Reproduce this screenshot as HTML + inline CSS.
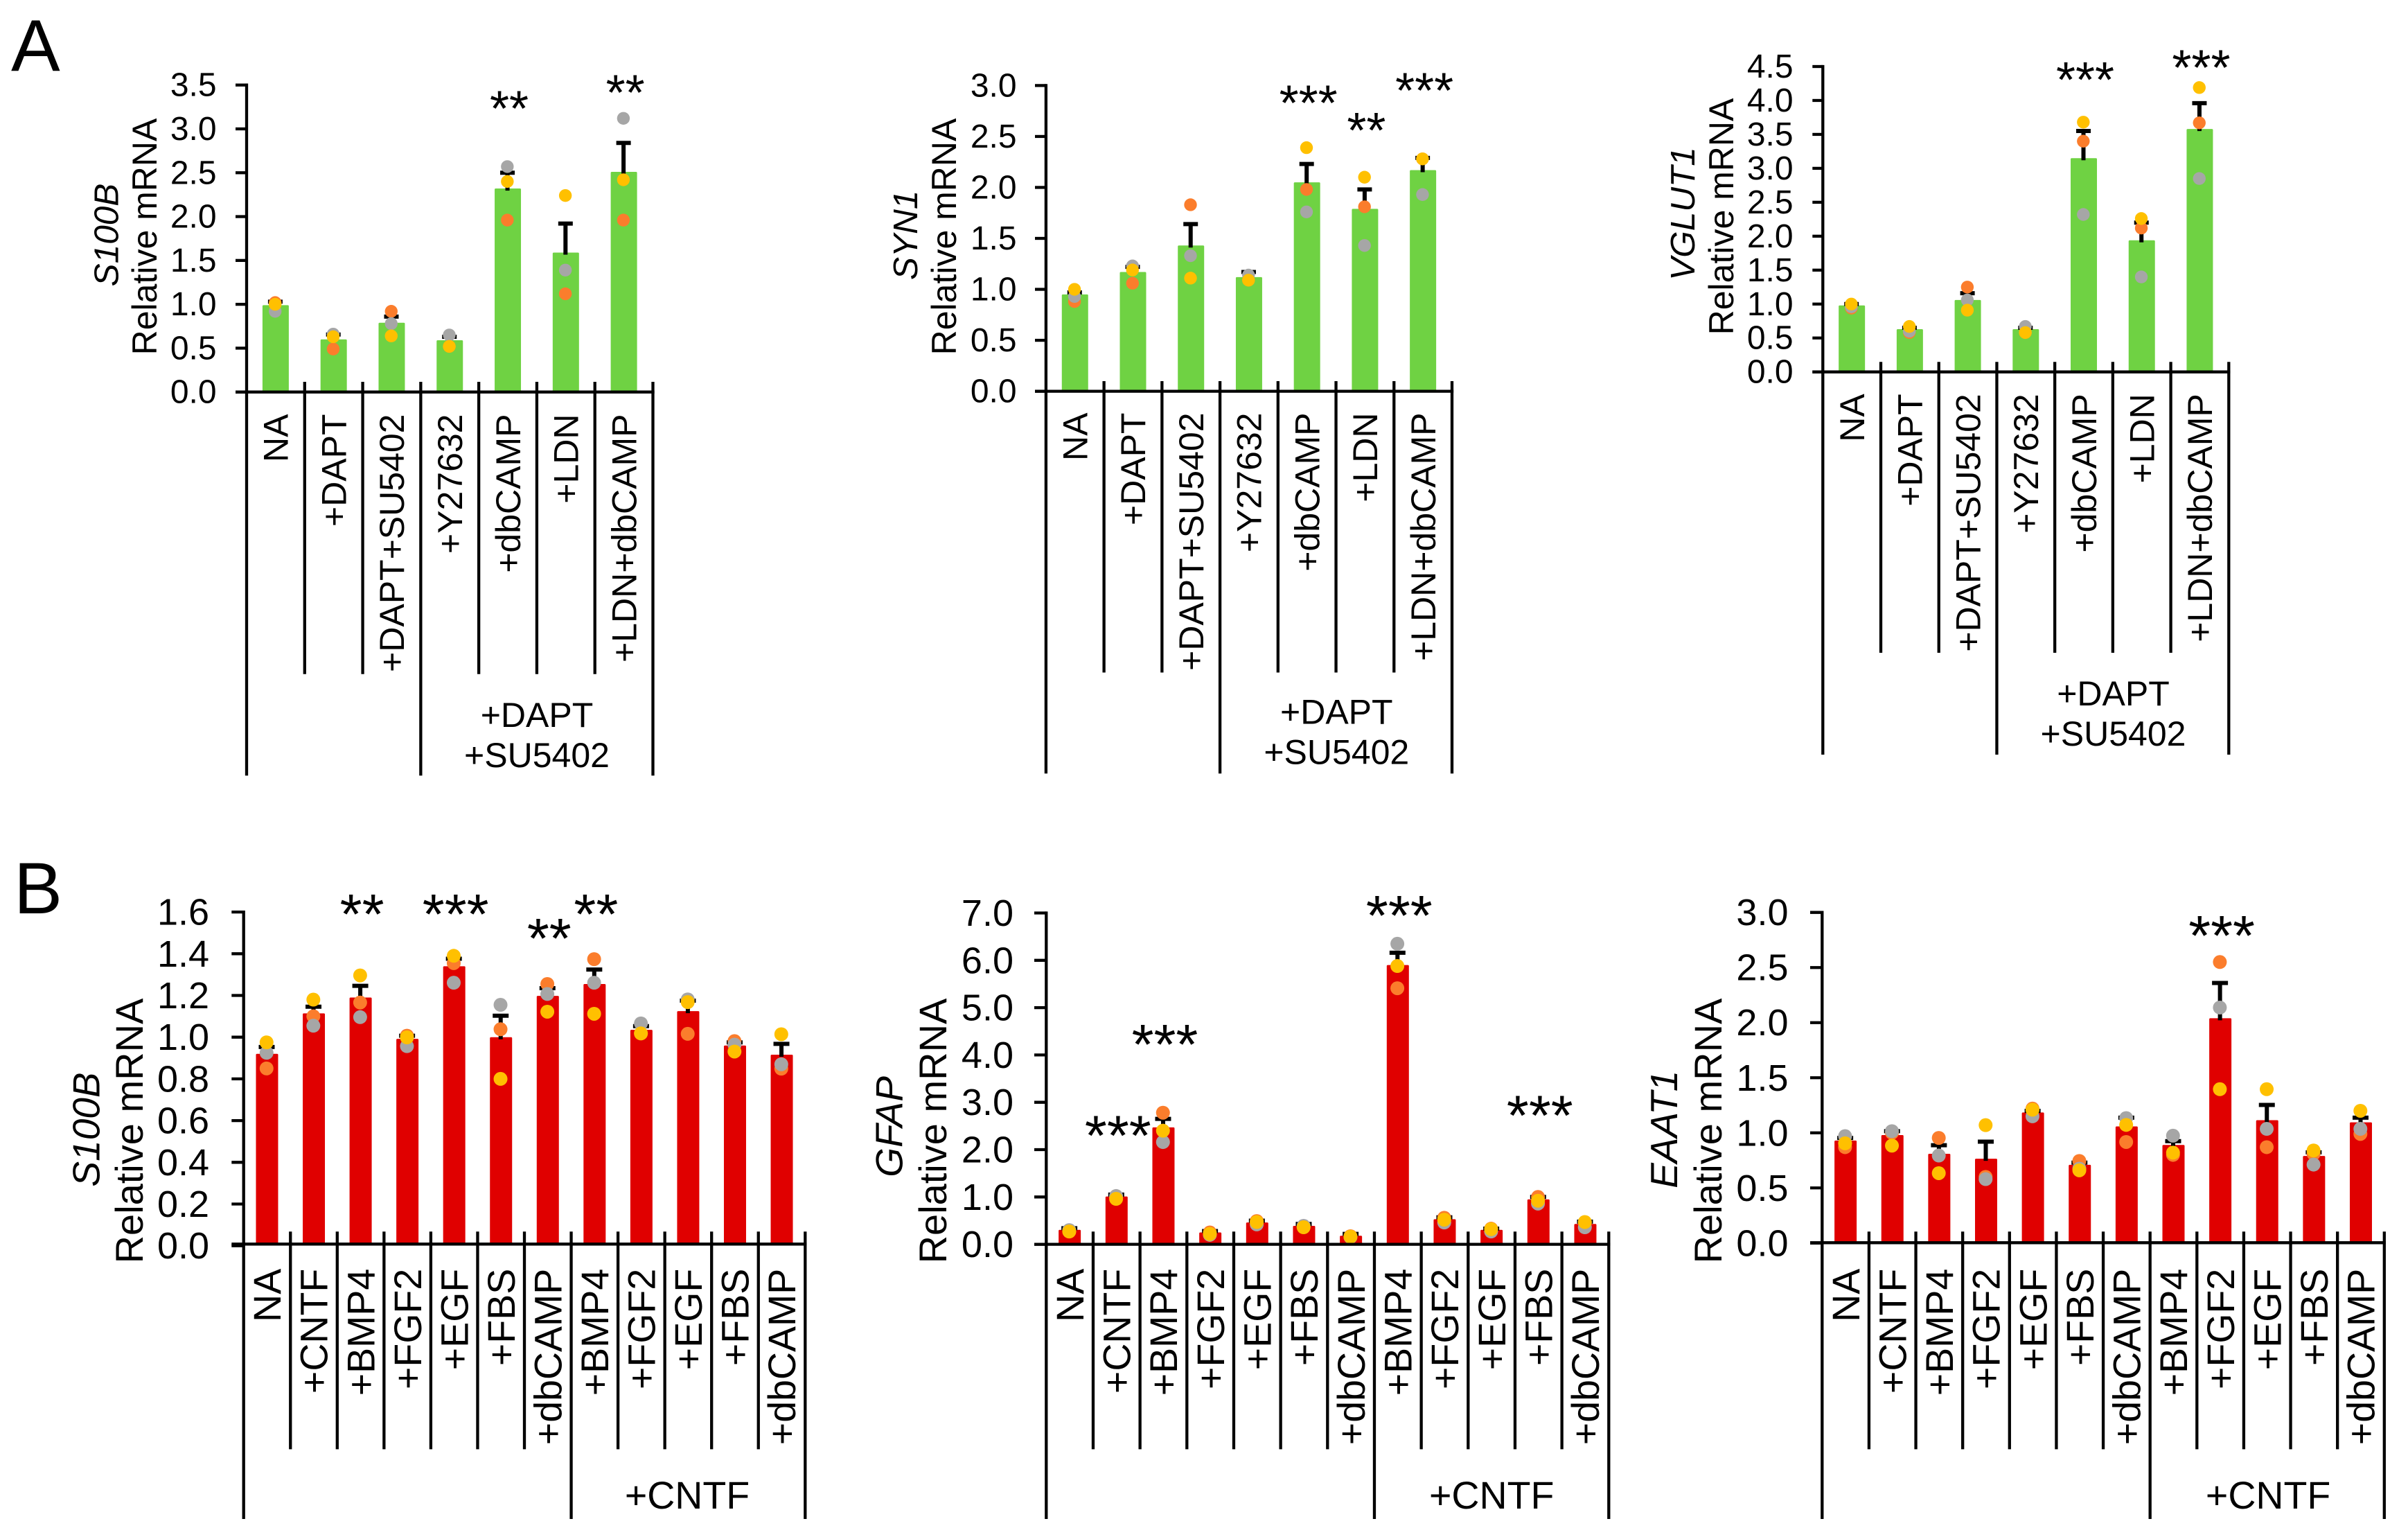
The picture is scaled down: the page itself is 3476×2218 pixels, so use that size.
<!DOCTYPE html>
<html lang="en">
<head>
<meta charset="utf-8">
<title>Relative mRNA expression panels</title>
<style>
html,body{margin:0;padding:0;background:#fff;width:3476px;height:2218px;overflow:hidden}
svg{display:block;font-family:"Liberation Sans",Arial,sans-serif}
</style>
</head>
<body>
<svg id="figure" xmlns="http://www.w3.org/2000/svg" width="3476" height="2218" viewBox="0 0 3476 2218">
<rect width="3476" height="2218" fill="#fff"/>
<text x="16" y="102.7" font-size="106" fill="#000">A</text>
<text x="20" y="1318" font-size="105" fill="#000">B</text>
</svg>
<script>
// ---------- Panel A data ----------
const catsA = ['NA','+DAPT','+DAPT+SU5402','+Y27632','+dbCAMP','+LDN','+LDN+dbCAMP'];
const catsB = ['NA','+CNTF','+BMP4','+FGF2','+EGF','+FBS','+dbCAMP','+BMP4','+FGF2','+EGF','+FBS','+dbCAMP'];

const a1Ticks = ['0.0','0.5','1.0','1.5','2.0','2.5','3.0','3.5'];
const a1Means = [0.99,0.60,0.79,0.59,2.32,1.59,2.51];
const a1ErrTop = [1.03,0.655,0.86,0.63,2.50,1.92,2.84];
const a1Gray = [0.92,0.66,0.78,0.65,2.57,1.39,3.12];
const a1Orange = [1.02,0.49,0.92,0.52,1.96,1.12,1.96];
const a1Yellow = [1.00,0.63,0.64,0.52,2.40,2.24,2.42];
const a1StarBars = [4,6];
const a1StarLevels = [3.35,3.53];
const a1StarLabels = ['**','**'];

const a2Ticks = ['0.0','0.5','1.0','1.5','2.0','2.5','3.0'];
const a2Means = [0.95,1.17,1.43,1.12,2.05,1.79,2.17];
const a2ErrTop = [0.97,1.22,1.64,1.17,2.23,1.98,2.29];
const a2Gray = [0.93,1.23,1.33,1.14,1.76,1.43,1.93];
const a2Orange = [0.88,1.06,1.83,1.09,1.98,1.81,2.28];
const a2Yellow = [1.00,1.19,1.11,1.09,2.39,2.10,2.28];
const a2StarBars = [4,5,6];
const a2StarLevels = [2.93,2.66,3.05];
const a2StarLabels = ['***','**','***'];

const a3Ticks = ['0.0','0.5','1.0','1.5','2.0','2.5','3.0','3.5','4.0','4.5'];
const a3Means = [0.98,0.63,1.06,0.63,3.15,1.94,3.58];
const a3ErrTop = [1.00,0.65,1.16,0.65,3.55,2.20,3.96];
const a3Gray = [0.96,0.60,1.06,0.67,2.32,1.40,2.85];
const a3Orange = [0.94,0.58,1.25,0.58,3.40,2.12,3.67];
const a3Yellow = [1.00,0.67,0.91,0.58,3.68,2.26,4.19];
const a3StarBars = [4,6];
const a3StarLevels = [4.455,4.635];
const a3StarLabels = ['***','***'];

// ---------- Panel B data ----------
const b1Ticks = ['0.0','0.2','0.4','0.6','0.8','1.0','1.2','1.4','1.6'];
const b1Means = [0.92,1.114,1.19,0.992,1.34,1.00,1.198,1.255,1.035,1.125,0.96,0.916];
const b1ErrTop = [0.953,1.146,1.246,1.007,1.376,1.103,1.235,1.324,1.053,1.175,0.975,0.968];
const b1Gray = [0.925,1.055,1.096,0.957,1.261,1.155,1.207,1.261,1.066,1.181,0.964,0.87];
const b1Orange = [0.85,1.10,1.166,1.007,1.355,1.038,1.255,1.374,1.018,1.016,0.981,0.849];
const b1Yellow = [0.975,1.18,1.296,0.999,1.39,0.80,1.122,1.112,1.018,1.168,0.931,1.014];
const b1StarBars = [2,4,6,7];
const b1StarLevels = [1.645,1.645,1.53,1.645];
const b1StarLabels = ['**','***','**','**'];

const b2Ticks = ['0.0','1.0','2.0','3.0','4.0','5.0','6.0','7.0'];
const b2Means = [0.305,1.01,2.47,0.25,0.46,0.39,0.18,5.90,0.53,0.305,0.95,0.43];
const b2ErrTop = [0.34,1.05,2.65,0.28,0.50,0.43,0.22,6.16,0.57,0.33,1.00,0.48];
const b2Gray = [0.30,1.02,2.16,0.20,0.42,0.39,0.15,6.35,0.46,0.27,0.86,0.36];
const b2Orange = [0.27,0.99,2.78,0.25,0.49,0.37,0.17,5.41,0.56,0.33,1.00,0.46];
const b2Yellow = [0.27,0.96,2.40,0.22,0.47,0.36,0.16,5.88,0.52,0.32,0.92,0.47];
const b2StarBars = [1,2,7,10];
const b2StarLevels = [2.546,4.47,7.19,2.97];
const b2StarLabels = ['***','***','***','***'];

const b3Ticks = ['0.0','0.5','1.0','1.5','2.0','2.5','3.0'];
const b3Means = [0.93,0.98,0.81,0.765,1.185,0.71,1.058,0.89,2.04,1.115,0.79,1.095];
const b3ErrTop = [0.954,1.015,0.888,0.92,1.20,0.73,1.138,0.925,2.36,1.253,0.823,1.138];
const b3Gray = [0.97,1.015,0.794,0.58,1.15,0.675,1.134,0.974,2.137,1.036,0.712,1.036];
const b3Orange = [0.87,1.00,0.954,0.60,1.22,0.745,0.917,0.80,2.55,0.87,0.81,0.99];
const b3Yellow = [0.905,0.884,0.634,1.07,1.21,0.66,1.072,0.82,1.396,1.396,0.84,1.20];
const b3StarBars = [8];
const b3StarLevels = [2.895];
const b3StarLabels = ['***'];

// ---------- Drawing ----------
const SVG_NS = 'http://www.w3.org/2000/svg';
const figure = document.getElementById('figure');
const GREEN = '#6fd243';
const RED = '#e00000';
const GRAY = '#a6a6a6';
const ORANGE = '#fb7d2c';
const YELLOW = '#ffc000';

function mk(parent, tag, attrs, name, text) {
  const el = document.createElementNS(SVG_NS, tag);
  for (const k in attrs) el.setAttribute(k, attrs[k]);
  
  
  if (text !== undefined) el.textContent = text;
  parent.appendChild(el);
  return el;
}

function drawChart(c) {
  const g = mk(figure, 'g', {}, c.id + '-chart');
  const maxTick = parseFloat(c.ticks[c.ticks.length - 1]);
  const yScale = v => c.baseY - (v / maxTick) * (c.baseY - c.topY);
  const n = c.cats.length;
  const step = (c.rightX - c.axisX) / n;
  const xEdge = i => c.axisX + i * step;
  const xCenter = i => xEdge(i) + step / 2;
  const axisY = c.xAxisY === undefined ? c.baseY : c.xAxisY;

  // bars
  c.means.forEach((v, i) => {
    mk(g, 'rect', {x: xCenter(i) - c.barW / 2, y: yScale(v), width: c.barW, height: axisY - yScale(v), rx: 1.5, fill: c.color}, c.id + '-bar-' + i);
  });
  // error bars
  c.errTop.forEach((v, i) => {
    const ex = xCenter(i) - 0.5;
    mk(g, 'line', {x1: ex, x2: ex, y1: yScale(c.means[i]) + 3, y2: yScale(v), stroke: '#000', 'stroke-width': 6}, c.id + '-error-bar-' + i);
    mk(g, 'line', {x1: ex - c.capHalf, x2: ex + c.capHalf, y1: yScale(v), y2: yScale(v), stroke: '#000', 'stroke-width': 6}, c.id + '-error-cap-' + i);
  });
  // replicate points
  [[c.orange, ORANGE, 'orange'], [c.gray, GRAY, 'gray'], [c.yellow, YELLOW, 'yellow']].forEach(s => {
    s[0].forEach((v, i) => {
      mk(g, 'circle', {cx: xCenter(i) - 0.7, cy: yScale(v), r: c.dotR, fill: s[1]}, c.id + '-point-' + s[2] + '-' + i);
    });
  });
  // y axis
  mk(g, 'line', {x1: c.axisX, x2: c.axisX, y1: c.topY - c.lw / 2, y2: c.bottomY, stroke: '#000', 'stroke-width': c.lw}, c.id + '-y-axis');
  c.ticks.forEach(t => {
    const y = yScale(parseFloat(t));
    mk(g, 'line', {x1: c.tickLeft, x2: c.axisX, y1: y, y2: y, stroke: '#000', 'stroke-width': c.lw}, c.id + '-y-tick-' + t);
    mk(g, 'text', {x: c.tickEnd, y: y + c.tickDy, 'text-anchor': 'end', 'font-size': c.tickFont, fill: '#000'}, c.id + '-y-tick-label-' + t, t);
  });
  // x axis
  mk(g, 'line', {x1: c.tickLeft, x2: c.rightX + c.lw / 2, y1: axisY, y2: axisY, stroke: '#000', 'stroke-width': c.lw}, c.id + '-x-axis');
  for (let i = 1; i <= n; i++) {
    const long = i === n || i === c.groupAt;
    mk(g, 'line', {x1: xEdge(i), x2: xEdge(i), y1: c.catTop, y2: long ? c.bottomY : c.catBottom, stroke: '#000', 'stroke-width': c.lw}, c.id + '-category-divider-' + i);
  }
  c.cats.forEach((t, i) => {
    const x = xCenter(i) + c.font * 0.355;
    mk(g, 'text', {x: x, y: c.labelTop, 'text-anchor': 'end', 'font-size': c.font, fill: '#000', transform: 'rotate(-90 ' + x + ' ' + c.labelTop + ')'}, c.id + '-category-label-' + i, t);
  });
  // axis titles
  mk(g, 'text', {x: c.titleX, y: c.titleY, 'text-anchor': 'middle', 'font-size': c.titleFont, fill: '#000', transform: 'rotate(-90 ' + c.titleX + ' ' + c.titleY + ')'}, c.id + '-y-axis-title', 'Relative mRNA');
  mk(g, 'text', {x: c.geneX, y: c.geneY, 'text-anchor': 'middle', 'font-size': c.geneFont, 'font-style': 'italic', fill: '#000', transform: 'rotate(-90 ' + c.geneX + ' ' + c.geneY + ')'}, c.id + '-gene-title', c.gene);
  // group labels
  c.groupLines.forEach((t, i) => {
    mk(g, 'text', {x: c.groupX, y: c.groupY + i * c.groupGap, 'text-anchor': 'middle', 'font-size': c.font, fill: '#000'}, c.id + '-group-label-' + i, t);
  });
  // significance stars
  c.starBars.forEach((b, i) => {
    mk(g, 'text', {x: xCenter(b) + 2, y: yScale(c.starLevels[i]) + c.starFont * 0.55, 'text-anchor': 'middle', 'font-size': c.starFont, fill: '#000'}, c.id + '-significance-' + i, c.starLabels[i]);
  });
}

const panelA = {cats: catsA, color: GREEN, barW: 38, lw: 4.3, font: 50, titleFont: 50, geneFont: 49.5, tickFont: 48, tickDy: 16, starFont: 72, dotR: 9.2, capHalf: 10.5, groupAt: 3, groupLines: ['+DAPT', '+SU5402'], groupGap: 58};
const panelB = {cats: catsB, color: RED, barW: 32, lw: 4.3, font: 55.5, titleFont: 56, geneFont: 55, tickFont: 54, tickDy: 18.5, starFont: 82, dotR: 10, capHalf: 11.5, groupAt: 7, groupLines: ['+CNTF'], groupGap: 0};

drawChart(Object.assign({}, panelA, {id: 's100b-a', gene: 'S100B', ticks: a1Ticks, means: a1Means, errTop: a1ErrTop, gray: a1Gray, orange: a1Orange, yellow: a1Yellow, starBars: a1StarBars, starLevels: a1StarLevels, starLabels: a1StarLabels,
  axisX: 356, rightX: 942.5, topY: 122.7, baseY: 565.7, bottomY: 1119.3, catTop: 551, catBottom: 972.7, tickLeft: 340, tickEnd: 312.6, labelTop: 597.5, titleX: 226, titleY: 341.5, geneX: 170.7, geneY: 339, groupX: 775, groupY: 1049}));
drawChart(Object.assign({}, panelA, {id: 'syn1-a', gene: 'SYN1', ticks: a2Ticks, means: a2Means, errTop: a2ErrTop, gray: a2Gray, orange: a2Orange, yellow: a2Yellow, starBars: a2StarBars, starLevels: a2StarLevels, starLabels: a2StarLabels,
  axisX: 1509.9, rightX: 2096, topY: 123.4, baseY: 564.6, bottomY: 1116.3, catTop: 550, catBottom: 970.5, tickLeft: 1494, tickEnd: 1467.6, labelTop: 595.5, titleX: 1380, titleY: 341.5, geneX: 1324, geneY: 339.3, groupX: 1929.3, groupY: 1044.6}));
drawChart(Object.assign({}, panelA, {id: 'vglut1-a', gene: 'VGLUT1', ticks: a3Ticks, means: a3Means, errTop: a3ErrTop, gray: a3Gray, orange: a3Orange, yellow: a3Yellow, starBars: a3StarBars, starLevels: a3StarLevels, starLabels: a3StarLabels,
  axisX: 2631.3, rightX: 3217.3, topY: 96, baseY: 536.7, bottomY: 1089, catTop: 522.3, catBottom: 942, tickLeft: 2616.3, tickEnd: 2588.6, labelTop: 568.3, titleX: 2502, titleY: 312.5, geneX: 2446, geneY: 308.5, groupX: 3050.5, groupY: 1017.8}));
drawChart(Object.assign({}, panelB, {id: 's100b-b', gene: 'S100B', ticks: b1Ticks, means: b1Means, errTop: b1ErrTop, gray: b1Gray, orange: b1Orange, yellow: b1Yellow, starBars: b1StarBars, starLevels: b1StarLevels, starLabels: b1StarLabels,
  axisX: 351.7, rightX: 1162.3, topY: 1316.1, baseY: 1797.7, xAxisY: 1795.3, bottomY: 2192, catTop: 1777.3, catBottom: 2091.4, tickLeft: 334.3, tickEnd: 302.1, labelTop: 1830.7, titleX: 206, titleY: 1632, geneX: 143.3, geneY: 1630, groupX: 992, groupY: 2177}));
drawChart(Object.assign({}, panelB, {id: 'gfap-b', gene: 'GFAP', ticks: b2Ticks, means: b2Means, errTop: b2ErrTop, gray: b2Gray, orange: b2Orange, yellow: b2Yellow, starBars: b2StarBars, starLevels: b2StarLevels, starLabels: b2StarLabels,
  axisX: 1510.3, rightX: 2322.3, topY: 1317.5, baseY: 1795.6, bottomY: 2192, catTop: 1777.3, catBottom: 2091.4, tickLeft: 1493, tickEnd: 1463, labelTop: 1830.7, titleX: 1366, titleY: 1632, geneX: 1302.3, geneY: 1625.9, groupX: 2153.2, groupY: 2177}));
drawChart(Object.assign({}, panelB, {id: 'eaat1-b', gene: 'EAAT1', ticks: b3Ticks, means: b3Means, errTop: b3ErrTop, gray: b3Gray, orange: b3Orange, yellow: b3Yellow, starBars: b3StarBars, starLevels: b3StarLevels, starLabels: b3StarLabels,
  axisX: 2630.3, rightX: 3441.8, topY: 1316.7, baseY: 1793.8, xAxisY: 1793.3, bottomY: 2192, catTop: 1777.3, catBottom: 2091.4, tickLeft: 2613, tickEnd: 2581.5, labelTop: 1830.7, titleX: 2485, titleY: 1632, geneX: 2421, geneY: 1629.8, groupX: 3274.1, groupY: 2177}));
</script>
</body>
</html>
